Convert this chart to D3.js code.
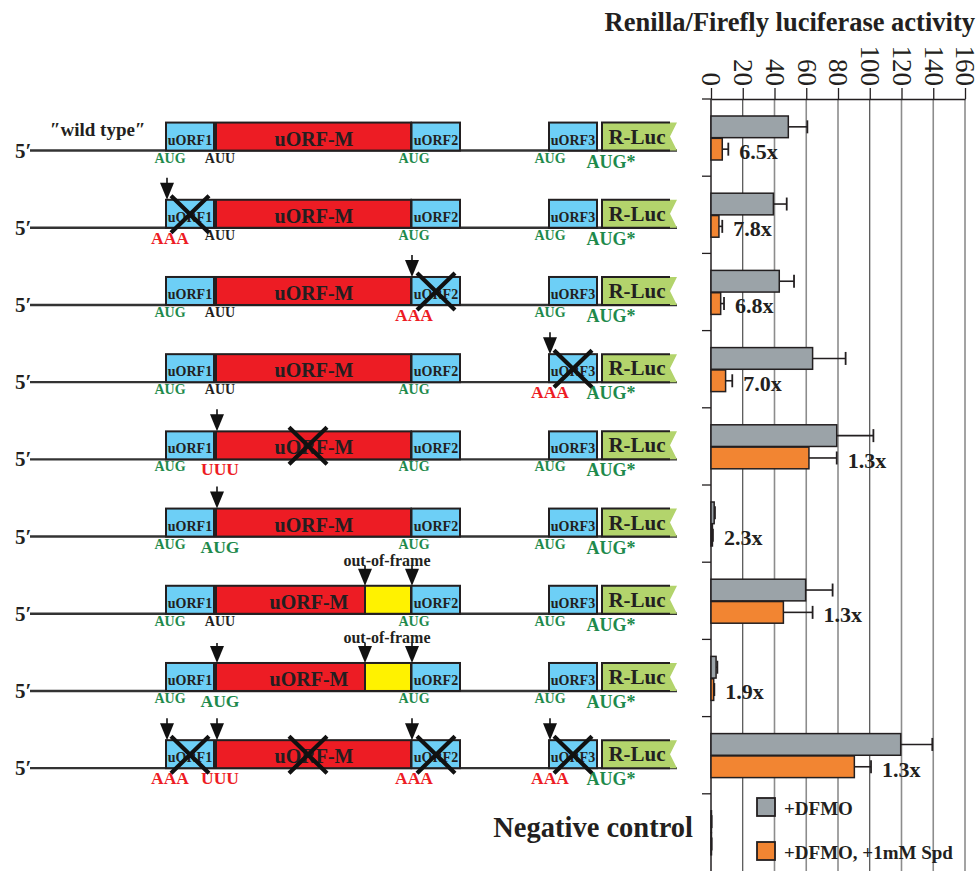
<!DOCTYPE html>
<html><head><meta charset="utf-8">
<script src="https://cdn.jsdelivr.net/npm/d3@7/dist/d3.min.js"></script>
<style>
body{margin:0;background:#fff}
text{font-family:"Liberation Serif","Times New Roman",serif;}
</style>
</head><body>
<svg id="c" width="979" height="871"></svg>
<script>
// ---------------- DATA ----------------
const constructs = ["wild type","uORF1 AAA","uORF2 AAA","uORF3 AAA","uORF-M UUU","uORF-M AUG",
  "out-of-frame","out-of-frame AUG","all mutated","Negative control"];
const dfmo    = [48.7, 39.3, 43.0, 64.0, 79.2, 2.0, 59.6, 3.2, 119.5, 0.3];
const dfmoErr = [12.0,  8.4,  9.3, 20.8, 23.1, 0.5, 17.0, 0.8, 19.9, 0.1];
const spd     = [ 7.1,  5.0,  6.1,  9.2, 61.7, 0.9, 45.6, 1.7, 90.3, 0.3];
const spdErr  = [ 3.8,  2.1,  2.1,  4.2, 17.5, 0.3, 18.4, 0.4, 10.5, 0.1];
const foldLabels = ["6.5x","7.8x","6.8x","7.0x","1.3x","2.3x","1.3x","1.9x","1.3x",""];
const xTicks = [0,20,40,60,80,100,120,140,160];
const seriesNames = ["+DFMO","+DFMO, +1mM Spd"];
const axisTitle = "Renilla/Firefly luciferase activity";

// construct diagrams (sites: uORF1, uORF-M, uORF2, uORF3)
const sites = ["uORF1","uORF-M","uORF2","uORF3"];
const wtCodons = ["AUG","AUU","AUG","AUG"];
const startCodons = [
  ["AUG","AUU","AUG","AUG"],
  ["AAA","AUU","AUG","AUG"],
  ["AUG","AUU","AAA","AUG"],
  ["AUG","AUU","AUG","AAA"],
  ["AUG","UUU","AUG","AUG"],
  ["AUG","AUG","AUG","AUG"],
  ["AUG","AUU","AUG","AUG"],
  ["AUG","AUG","AUG","AUG"],
  ["AAA","UUU","AAA","AAA"]
];
const knockedOut = [[],["uORF1"],["uORF2"],["uORF3"],["uORF-M"],[],[],[],["uORF1","uORF-M","uORF2","uORF3"]];
const arrowSites = [[],["uORF1"],["uORF2"],["uORF3"],["uORF-M"],["uORF-M"],["frame1","frame2"],
  ["uORF-M","frame1","frame2"],["uORF1","uORF-M","uORF2","uORF3"]];
const outOfFrame = [false,false,false,false,false,false,true,true,false];

// ---------------- LAYOUT ----------------
const svg = d3.select("#c");
const FONT = '"Liberation Serif","Times New Roman",serif';
const C = {gray:"#9ba3a8", orange:"#f28532", stroke:"#231f20", cyan:"#6dcff6", red:"#ed1c24",
  green:"#b3d46c", yellow:"#fff200", codonGreen:"#1e8a4c", codonRed:"#ed1c24"};

const x = d3.scaleLinear().domain([0,160]).range([711,965]);
const y = d3.scaleBand().domain(constructs).range([99,871]);
const sub = d3.scaleBand().domain([0,1]).range([17,61]).paddingInner(0.03);

// gridlines
const gridDark = new Set([20,100]);
svg.append("g").selectAll("line").data(xTicks.slice(1)).join("line")
  .attr("x1",d=>x(d)).attr("x2",d=>x(d)).attr("y1",99).attr("y2",871)
  .attr("stroke",d=>gridDark.has(d)?"#2a2a2a":"#8c8c8c")
  .attr("stroke-width",d=>gridDark.has(d)?1:1.6);

// top axis
const ax = svg.append("g").attr("transform","translate(0,99)")
  .call(d3.axisTop(x).tickValues(xTicks).tickSize(11).tickSizeOuter(0));
ax.select(".domain").attr("stroke",C.stroke).attr("stroke-width",1.5);
ax.selectAll(".tick line").attr("stroke",C.stroke).attr("stroke-width",1.3);
ax.selectAll(".tick text")
  .attr("transform","rotate(90)")
  .attr("x",-13).attr("y",0).attr("dy","0.34em")
  .attr("text-anchor","end")
  .style("font-family",FONT).style("font-size","27px").attr("fill",C.stroke);

// title
svg.append("text").attr("x",975).attr("y",31).attr("text-anchor","end")
  .style("font-size","26.5px").style("font-weight","bold").attr("fill",C.stroke).text(axisTitle);

// left category axis (ticks at band boundaries)
svg.append("line").attr("x1",x(0)).attr("x2",x(0)).attr("y1",99).attr("y2",871)
  .attr("stroke",C.stroke).attr("stroke-width",1.5);
svg.append("g").selectAll("line").data(constructs).join("line")
  .attr("x1",x(0)-9).attr("x2",x(0)).attr("y1",d=>y(d)).attr("y2",d=>y(d))
  .attr("stroke",C.stroke).attr("stroke-width",1.3);

// bars
const rows = constructs.map((c,i)=>({c,i,vals:[dfmo[i],spd[i]],errs:[dfmoErr[i],spdErr[i]]}));
const grp = svg.append("g").selectAll("g").data(rows).join("g")
  .attr("transform",d=>`translate(0,${y(d.c)})`);
grp.each(function(d){
  const g = d3.select(this);
  d.vals.forEach((v,k)=>{
    const by = sub(k), bh = sub.bandwidth(), cy = by+bh/2;
    const e = d.errs[k];
    g.append("line").attr("x1",x(v)).attr("x2",x(v+e)).attr("y1",cy).attr("y2",cy)
      .attr("stroke",C.stroke).attr("stroke-width",1.6);
    g.append("line").attr("x1",x(v+e)).attr("x2",x(v+e)).attr("y1",cy-6.5).attr("y2",cy+6.5)
      .attr("stroke",C.stroke).attr("stroke-width",1.8);
    g.append("rect").attr("x",x(0)).attr("y",by).attr("width",x(v)-x(0)).attr("height",bh)
      .attr("fill",k===0?C.gray:C.orange).attr("stroke",C.stroke).attr("stroke-width",1.5);
  });
  if(foldLabels[d.i]){
    g.append("text").attr("x",x(d.vals[1]+d.errs[1])+11).attr("y",sub(1)+sub.bandwidth()-1)
      .style("font-size","22px").style("font-weight","bold").attr("fill",C.stroke).text(foldLabels[d.i]);
  }
});

// legend
const leg = svg.append("g");
[0,1].forEach(k=>{
  const ly = k===0?798:842;
  leg.append("rect").attr("x",757).attr("y",ly).attr("width",18).attr("height",18)
    .attr("fill",k===0?C.gray:C.orange).attr("stroke",C.stroke).attr("stroke-width",1.8);
  leg.append("text").attr("x",784).attr("y",ly+17).style("font-size","19px").style("font-weight","bold")
    .attr("fill",C.stroke).text(seriesNames[k]);
});

// negative control label
svg.append("text").attr("x",693).attr("y",y("Negative control")+y.bandwidth()*0.56)
  .attr("text-anchor","end").style("font-size","28.5px").style("font-weight","bold")
  .attr("fill",C.stroke).text("Negative control");

// ---------------- CONSTRUCT DIAGRAMS ----------------
const elX = {"uORF1":[166,214],"uORF-M":[216,411],"uORF2":[411.5,460],"uORF3":[549,597]};
const frameX = 365;
const crossX = {"uORF1":190,"uORF-M":308,"uORF2":436,"uORF3":573};
const arrowX = {"uORF1":167,"uORF-M":217,"uORF2":412,"uORF3":550,"frame1":365,"frame2":412};
const codonX = [170,220,414,550];
const BH = 28;

const dia = svg.append("g");
startCodons.forEach((codons,i)=>{
  const c = constructs[i];
  const ly = y(c) + y.bandwidth()*0.668;
  const top = ly - BH;
  const g = dia.append("g");
  // mRNA line
  g.append("line").attr("x1",30).attr("x2",677).attr("y1",ly).attr("y2",ly)
    .attr("stroke","#333").attr("stroke-width",2.4);
  g.append("text").attr("x",15).attr("y",ly+7).style("font-size","21px").style("font-weight","bold")
    .attr("fill",C.stroke).text("5\u2032");
  // boxes
  const box = (x0,x1,fill)=>g.append("rect").attr("x",x0).attr("y",top).attr("width",x1-x0).attr("height",BH)
    .attr("fill",fill).attr("stroke",C.stroke).attr("stroke-width",2);
  box(...elX["uORF1"],C.cyan);
  if(outOfFrame[i]){ box(216,frameX,C.red); box(frameX,411,C.yellow); }
  else box(...elX["uORF-M"],C.red);
  box(...elX["uORF2"],C.cyan);
  box(...elX["uORF3"],C.cyan);
  // R-Luc flag
  g.append("polygon").attr("points",`602,${top} 677,${top} 670,${top+BH/2} 677,${ly} 602,${ly}`)
    .attr("fill",C.green);
  g.append("polyline").attr("points",`670,${top} 602,${top} 602,${ly} 670,${ly}`)
    .attr("fill","none").attr("stroke",C.stroke).attr("stroke-width",2);
  // box labels
  const lab = (t,cx,by,fs)=>g.append("text").attr("x",cx).attr("y",by).attr("text-anchor","middle")
    .style("font-size",fs+"px").style("font-weight","bold").attr("fill",C.stroke).text(t);
  lab("uORF1",190,ly-6,14); lab("uORF2",436,ly-6,14); lab("uORF3",573,ly-6,14);
  lab("uORF-M",outOfFrame[i]?309:314,ly-5,20);
  lab("R-Luc",637,ly-7,21);
  // codons
  codons.forEach((cd,k)=>{
    const changed = cd!==wtCodons[k];
    g.append("text").attr("x",codonX[k]).attr("y",ly+(changed?16:12)).attr("text-anchor","middle")
      .style("font-size",(changed?17.5:14)+"px").style("font-weight","bold")
      .attr("fill",cd==="AUG"?C.codonGreen:(changed?C.codonRed:C.stroke)).text(cd);
  });
  g.append("text").attr("x",611).attr("y",ly+17).attr("text-anchor","middle")
    .style("font-size","18px").style("font-weight","bold").attr("fill",C.codonGreen).text("AUG*");
  // knock-out crosses
  knockedOut[i].forEach(s=>{
    const cx = crossX[s], cy = top+BH/2+1;
    g.append("path").attr("d",`M${cx-19},${cy-19}L${cx+19},${cy+18}M${cx+19},${cy-19}L${cx-19},${cy+18}`)
      .attr("stroke","#111").attr("stroke-width",4.2).attr("fill","none");
  });
  // arrows
  arrowSites[i].forEach(s=>{
    const ax0 = arrowX[s];
    g.append("line").attr("x1",ax0).attr("x2",ax0).attr("y1",top-(outOfFrame[i]?20:22)).attr("y2",top-14)
      .attr("stroke","#111").attr("stroke-width",1.6);
    g.append("path").attr("d",`M${ax0-7},${top-17}L${ax0+7},${top-17}L${ax0},${top}Z`).attr("fill","#111");
  });
  if(outOfFrame[i]){
    g.append("text").attr("x",387).attr("y",top-19.5).attr("text-anchor","middle")
      .style("font-size","16px").style("font-weight","bold").attr("fill",C.stroke).text("out-of-frame");
  }
  if(i===0){
    g.append("text").attr("x",50).attr("y",ly-15).style("font-size","19px").style("font-weight","bold")
      .attr("fill",C.stroke).text("\u2033wild type\u2033");
  }
});
</script>
</body></html>
